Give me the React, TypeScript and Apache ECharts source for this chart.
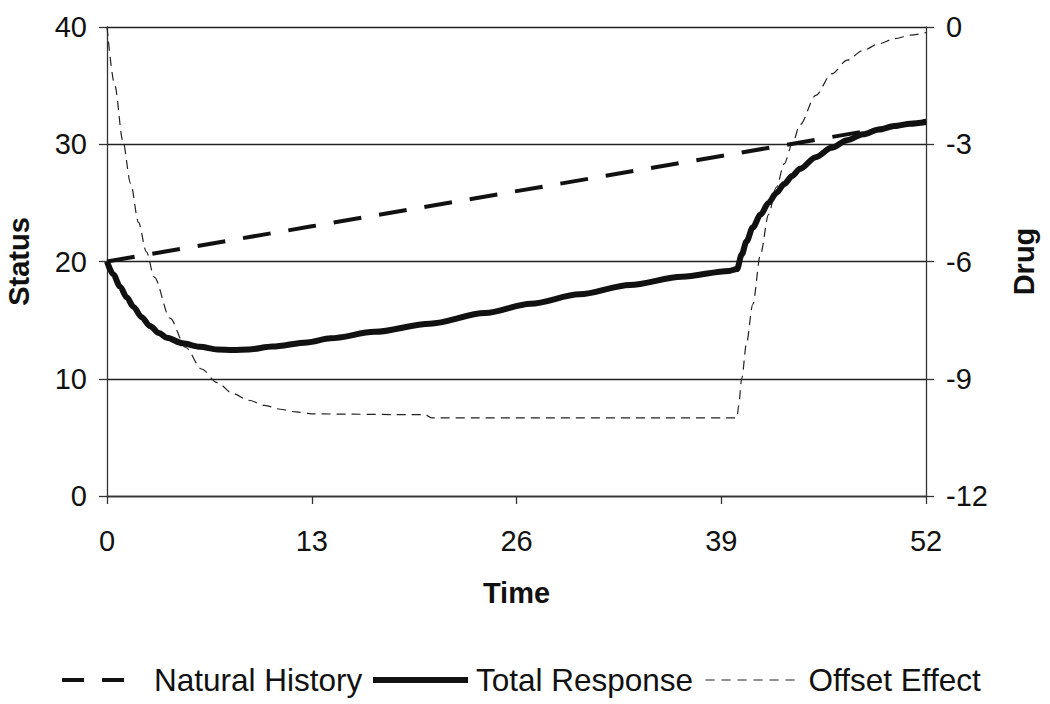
import React, { useEffect, useRef } from "react";
import * as echarts from "echarts";

const timeTicks = [0, 13, 26, 39, 52];

const naturalHistory: [number, number][] = [
  [0, 20], [13, 23], [26, 26], [39, 29], [52, 32],
];

const totalResponse: [number, number][] = [
  [0, 20], [0.4, 18.9], [0.83, 17.85], [1.25, 16.95], [1.67, 16.15], [2.2, 15.25],
  [2.73, 14.5], [3.3, 13.9], [3.8, 13.5], [4.8, 13.02], [5.9, 12.73], [7, 12.5],
  [8, 12.45], [9, 12.5], [10.5, 12.75], [12.7, 13.1], [14.2, 13.45], [17, 14.0],
  [20.5, 14.7], [24, 15.6], [26.9, 16.4], [30, 17.2], [33.2, 18.0], [36.5, 18.7],
  [39.5, 19.2], [40, 19.35], [40.3, 20.6], [40.6, 21.7], [41, 22.9], [41.5, 24.0],
  [42, 25.0], [42.5, 25.85], [43, 26.6], [43.5, 27.3], [44, 27.9], [45, 28.9],
  [46, 29.7], [47, 30.35], [48, 30.85], [49, 31.25], [50, 31.55], [51, 31.75], [52, 31.9],
];

const offsetEffect: [number, number][] = [
  [0, 0], [0.5, -1.5], [1, -2.9], [1.5, -4.0], [2, -5.0], [2.5, -5.75], [3, -6.4],
  [4, -7.45], [5, -8.2], [6, -8.75], [7, -9.1], [8, -9.38], [9, -9.55], [10, -9.68],
  [11, -9.78], [12, -9.85], [13, -9.9], [20.2, -9.92], [20.6, -10.0], [40, -10.0],
  [40.1, -9.7], [40.3, -9.0], [40.6, -8.1], [41, -7.1], [41.5, -5.8], [42, -4.8],
  [42.5, -4.1], [43, -3.5], [43.5, -3.0], [44, -2.5], [45, -1.75], [46, -1.2],
  [47, -0.85], [48, -0.6], [49, -0.43], [50, -0.3], [51, -0.21], [52, -0.14],
];

const FONT = "'Liberation Sans', Arial, sans-serif";
const AX = "#333";

export default function App() {
  const ref = useRef<HTMLDivElement>(null);
  useEffect(() => {
    if (!ref.current) return;
    const chart = echarts.init(ref.current, null, { renderer: "svg" });
    const textStyle = { fontFamily: FONT, fontSize: 31.5, color: "#111" };
    const legendBase = {
      top: 659,
      itemHeight: 14,
      itemStyle: { opacity: 0 },
    };
    chart.setOption({
      animation: false,
      backgroundColor: "#fff",
      grid: {
        left: 107, right: 124, top: 27, bottom: 208,
        containLabel: false, outerBoundsMode: "none",
      },
      legend: [
        { ...legendBase, left: 55, itemWidth: 67, data: ["Natural History"],
          lineStyle: { color: "#111", width: 4, type: [22, 18] },
          textStyle: { ...textStyle, padding: [0, 0, 0, 20] } },
        { ...legendBase, left: 365, itemWidth: 95, data: ["Total Response"],
          lineStyle: { color: "#111", width: 6, type: "solid" },
          textStyle: { ...textStyle, padding: [0, 0, 0, 3] } },
        { ...legendBase, left: 700, itemWidth: 90, data: ["Offset Effect"],
          lineStyle: { color: "#222", width: 1.2, type: [9, 7] },
          textStyle: { ...textStyle, padding: [0, 0, 0, 8] } },
      ],
      xAxis: {
        type: "value",
        min: 0,
        max: 52,
        interval: 13,
        name: "Time",
        nameLocation: "middle",
        nameGap: 82,
        nameTextStyle: { fontFamily: FONT, fontSize: 29, fontWeight: "bold", color: "#111" },
        axisLine: { show: true, onZero: false, lineStyle: { color: AX, width: 1.3 } },
        axisTick: { show: true, length: 8, lineStyle: { color: AX, width: 1.3 } },
        axisLabel: {
          fontFamily: FONT, fontSize: 29, color: "#111", margin: 30,
          formatter: (v: number) => (timeTicks.includes(v) ? String(v) : ""),
        },
        splitLine: { show: false },
      },
      yAxis: [
        {
          type: "value",
          min: 0,
          max: 40,
          interval: 10,
          name: "Status",
          nameLocation: "middle",
          nameRotate: 90,
          nameGap: 74,
          nameTextStyle: { fontFamily: FONT, fontSize: 29, fontWeight: "bold", color: "#111" },
          axisLine: { show: true, lineStyle: { color: AX, width: 1.3 } },
          axisTick: { show: true, length: 8, lineStyle: { color: AX, width: 1.3 } },
          axisLabel: { fontFamily: FONT, fontSize: 29, color: "#111", margin: 20 },
          splitLine: { show: true, lineStyle: { color: "#222", width: 1.3 } },
        },
        {
          type: "value",
          min: -12,
          max: 0,
          interval: 3,
          position: "right",
          name: "Drug",
          nameLocation: "middle",
          nameRotate: 90,
          nameGap: 83,
          nameTextStyle: { fontFamily: FONT, fontSize: 29, fontWeight: "bold", color: "#111" },
          axisLine: { show: true, lineStyle: { color: AX, width: 1.3 } },
          axisTick: { show: true, length: 8, lineStyle: { color: AX, width: 1.3 } },
          axisLabel: { fontFamily: FONT, fontSize: 29, color: "#111", margin: 20 },
          splitLine: { show: false },
        },
      ],
      series: [
        {
          name: "Natural History",
          type: "line",
          yAxisIndex: 0,
          data: naturalHistory,
          showSymbol: false,
          symbol: "none",
          lineStyle: { color: "#111", width: 4, type: [28, 18] },
          itemStyle: { color: "#111" },
          z: 3,
        },
        {
          name: "Total Response",
          type: "line",
          yAxisIndex: 0,
          data: totalResponse,
          showSymbol: false,
          symbol: "none",
          smooth: 0.3,
          smoothMonotone: "x",
          lineStyle: { color: "#111", width: 6 },
          itemStyle: { color: "#111" },
          z: 4,
        },
        {
          name: "Offset Effect",
          type: "line",
          yAxisIndex: 1,
          data: offsetEffect,
          showSymbol: false,
          symbol: "none",
          smooth: 0.3,
          smoothMonotone: "x",
          lineStyle: { color: "#222", width: 1.2, type: [9, 6] },
          itemStyle: { color: "#222" },
          z: 2,
        },
      ],
    });
    return () => chart.dispose();
  }, []);
  return (
    <div
      ref={ref}
      style={{ position: "absolute", left: 0, top: 0, width: 1050, height: 704 }}
    />
  );
}
